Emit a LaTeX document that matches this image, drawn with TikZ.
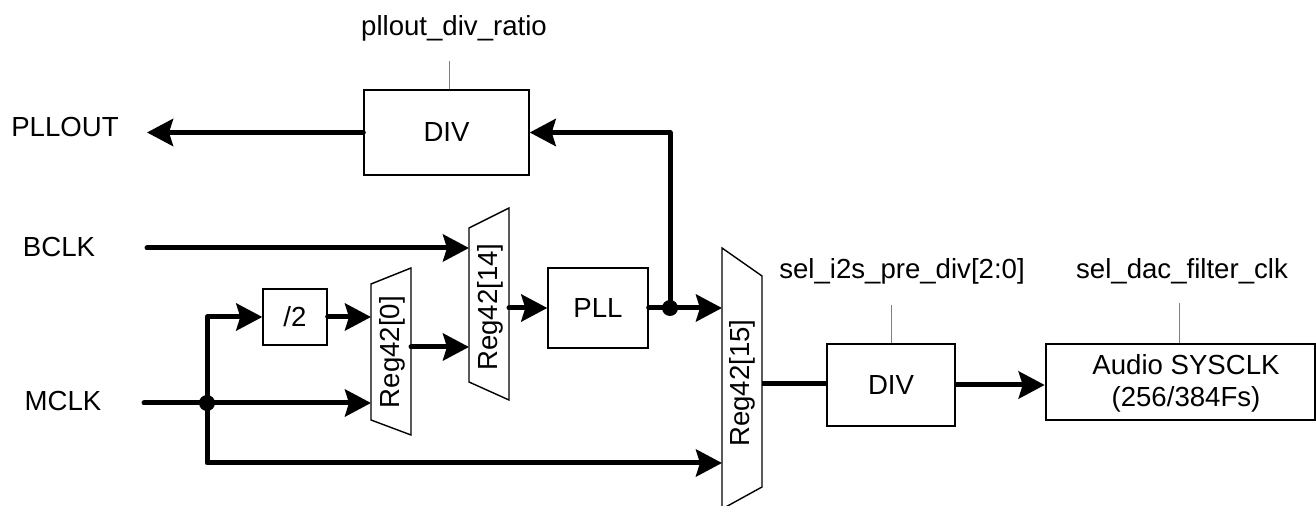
\documentclass[tikz,border=0pt]{standalone}
\usepackage{fontspec}
\setmainfont{Liberation Sans}
\usetikzlibrary{arrows.meta}
\begin{document}
\begin{tikzpicture}[x=0.5pt,y=-0.5pt,
  font=\fontsize{13.8}{16}\selectfont,
  wire/.style={line width=2.5pt,line cap=round,line join=round},
  sig/.style={wire,-{Stealth[length=13pt,width=13.5pt,inset=2pt]}},
  blk/.style={draw,line width=0.7pt,inner sep=0pt,align=center},
  mux/.style={draw,line width=0.7pt,line join=miter},
  ctl/.style={draw=gray,line width=0.5pt},
  jdot/.style={circle,fill,inner sep=0pt,minimum size=8pt},
  lbl/.style={inner sep=0pt}]
\useasboundingbox (0,0) rectangle (1316,506);

% blocks
\node[blk,minimum width=82.5pt,minimum height=42.5pt] (div1) at (446.5,132.5) {DIV};
\node[blk,minimum width=32pt,minimum height=28pt] (half) at (295,317) {/2};
\node[blk,minimum width=50pt,minimum height=40pt] (pll) at (598,308) {PLL};
\node[blk,minimum width=64pt,minimum height=41pt] (div2) at (891,385) {DIV};
\node[draw,line width=1.3pt,inner sep=0pt,minimum width=134.5pt,minimum height=38pt] (audio) at (1180.5,382) {};
\node[lbl,align=center] (audiotxt) at (1186,383) {Audio SYSCLK\\(256/384Fs)};

% muxes
\draw[mux] (371,284) -- (411,268) -- (411,435) -- (371,420) -- cycle;
\draw[mux] (469,228) -- (509,208) -- (509,400) -- (469,382) -- cycle;
\draw[mux] (722,248) -- (762,276) -- (762,487) -- (722,509) -- cycle;
\node[lbl,rotate=90] (m0) at (392,352) {Reg42[0]};
\node[lbl,rotate=90] (m14) at (490,307) {Reg42[14]};
\node[lbl,rotate=90] (m15) at (742,383) {Reg42[15]};

% mux ports
\coordinate (m0a) at (371,317);
\coordinate (m0b) at (371,403);
\coordinate (m0o) at (411,347);
\coordinate (m14a) at (469,248);
\coordinate (m14b) at (469,347);
\coordinate (m14o) at (509,308);
\coordinate (m15a) at (722,308);
\coordinate (m15b) at (722,463);
\coordinate (m15o) at (762,384);

% external labels
\node[lbl] (pllout) at (65,127) {PLLOUT};
\node[lbl] (bclk) at (59,247) {BCLK};
\node[lbl] (mclk) at (63,401) {MCLK};
\coordinate (pllend) at (147,132.5);
\coordinate (bstart) at (147,248);
\coordinate (mstart) at (144,403);

% junctions
\node[jdot] (jm) at (207,403) {};
\node[jdot] (jp) at (670,308) {};

% connectors
\draw[sig] (div1.west) -- (pllend);
\draw[sig] (bstart) -- (m14a);
\draw[wire] (mstart) -- (jm.center);
\draw[sig] (jm.center) -- (m0b);
\draw[sig] (jm.center) |- (half.west);
\draw[sig] (jm.center) |- (m15b);
\draw[sig] (half.east) -- (m0a);
\draw[sig] (m0o) -- (m14b);
\draw[sig] (m14o) -- (pll.west);
\draw[wire] (pll.east) -- (jp.center);
\draw[sig] (jp.center) -- (m15a);
\draw[sig] (jp.center) |- (div1.east);
\draw[wire,line cap=butt] (m15o) -- (m15o -| div2.west);
\draw[sig,line cap=butt] (div2.east) -- (div2.east -| audio.west);

% control labels
\node[lbl] (ratio) at (454,28) {pllout\_div\_ratio};
\node[lbl] (i2s) at (902,271) {sel\_i2s\_pre\_div[2:0]};
\node[lbl] (dac) at (1182,271) {sel\_dac\_filter\_clk};
\coordinate (c1) at (449,61);
\coordinate (c2) at (891,305);
\coordinate (c3) at (1179,303);
\draw[ctl] (c1) -- (c1 |- div1.north);
\draw[ctl] (c2) -- (c2 |- div2.north);
\draw[ctl] (c3) -- (c3 |- audio.north);
\end{tikzpicture}
\end{document}
